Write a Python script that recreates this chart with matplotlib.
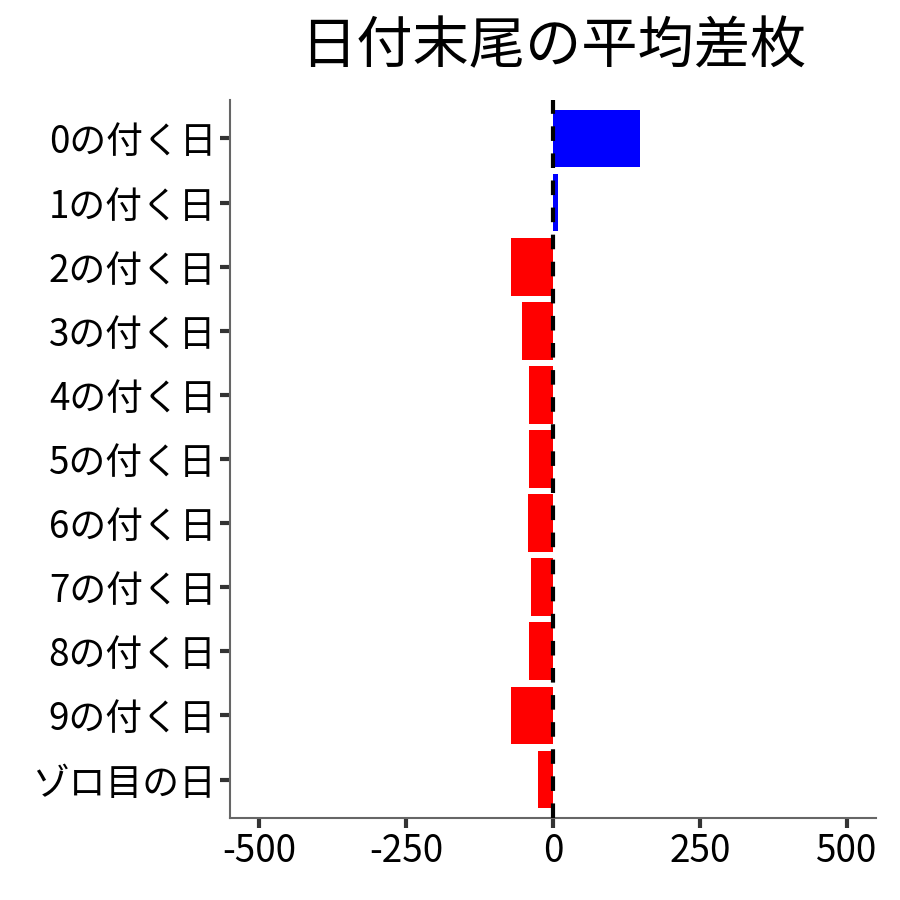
import matplotlib
matplotlib.use("Agg")
import matplotlib.pyplot as plt

plt.rcParams["font.family"] = ["Noto Sans CJK JP", "DejaVu Sans"]

# 日付末尾ごとの平均差枚
categories = ["0の付く日", "1の付く日", "2の付く日", "3の付く日", "4の付く日",
              "5の付く日", "6の付く日", "7の付く日", "8の付く日", "9の付く日",
              "ゾロ目の日"]
values = [148, 9, -71, -53, -41, -41, -43, -37, -41, -71, -26]
x_ticks = [-500, -250, 0, 250, 500]

colors = ["#0000ff" if v > 0 else "#ff0000" for v in values]

fig = plt.figure(figsize=(9, 9), dpi=100)
ax = fig.add_axes([0.2556, 0.0911, 0.7178, 0.7978])

y_pos = list(range(len(categories)))
ax.barh(y_pos, values, height=0.9, color=colors, zorder=2)
ax.axvline(0, color="black", linestyle=(0, (3.5, 3)), linewidth=3, zorder=3)

ax.set_xlim(-550, 550)
ax.set_ylim(len(categories) - 0.4, -0.6)
ax.set_yticks(y_pos)
ax.set_yticklabels(categories)
ax.set_xticks(x_ticks)
ax.set_xticklabels([str(t) for t in x_ticks])

ax.tick_params(axis="both", labelsize=26.5, colors="#333333", labelcolor="black",
               length=7, width=3, pad=3)

for side in ["top", "right"]:
    ax.spines[side].set_visible(False)
for side in ["left", "bottom"]:
    ax.spines[side].set_color("#666666")
    ax.spines[side].set_linewidth(1.5)

fig.text(0.6144, 0.947, "日付末尾の平均差枚", fontsize=40.5, ha="center", va="center")

plt.savefig("out.png", dpi=100, facecolor="white")
